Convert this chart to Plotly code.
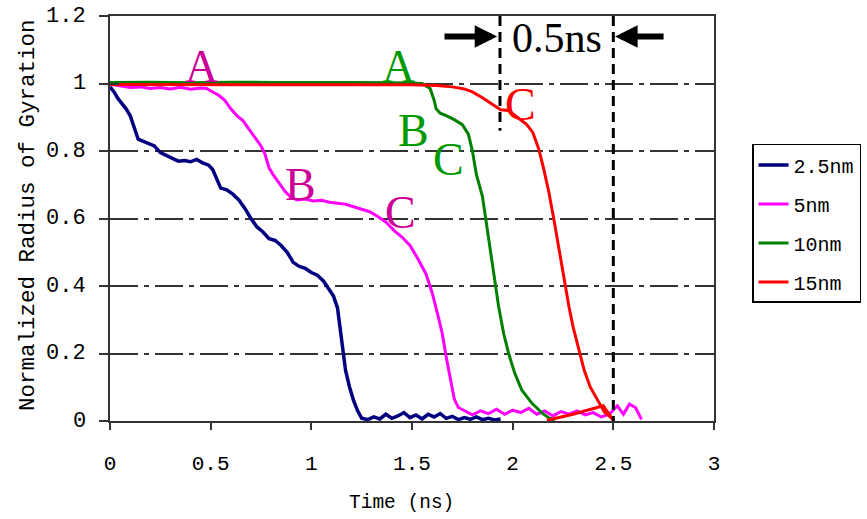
import plotly.graph_objects as go

# ---- series: normalized radius of gyration vs. time (ns) ----
t_25 = [0.00, 0.02, 0.04, 0.06, 0.08, 0.10, 0.12, 0.14, 0.16, 0.19, 0.22, 0.25, 0.28,
        0.31, 0.34, 0.37, 0.40, 0.43, 0.46, 0.49, 0.51, 0.53, 0.55, 0.58, 0.61, 0.64,
        0.67, 0.70, 0.73, 0.76, 0.79, 0.82, 0.85, 0.88, 0.91, 0.94, 0.97, 1.00, 1.03,
        1.06, 1.09, 1.11, 1.13, 1.15, 1.17, 1.19, 1.21, 1.23, 1.25, 1.28, 1.31, 1.34,
        1.37, 1.40, 1.43, 1.46, 1.49, 1.52, 1.55, 1.58, 1.61, 1.64, 1.67, 1.70, 1.73,
        1.76, 1.79, 1.82, 1.85, 1.88, 1.91, 1.94]
r_25 = [0.990, 0.975, 0.955, 0.940, 0.925, 0.905, 0.870, 0.835, 0.830, 0.822, 0.815,
        0.795, 0.785, 0.778, 0.770, 0.772, 0.768, 0.775, 0.765, 0.758, 0.745, 0.720,
        0.690, 0.685, 0.672, 0.655, 0.630, 0.600, 0.575, 0.560, 0.540, 0.535, 0.520,
        0.500, 0.470, 0.458, 0.452, 0.440, 0.432, 0.415, 0.390, 0.370, 0.335, 0.240,
        0.150, 0.100, 0.060, 0.030, 0.008, 0.004, 0.012, 0.006, 0.020, 0.008, 0.015,
        0.025, 0.010, 0.018, 0.006, 0.020, 0.012, 0.022, 0.008, 0.014, 0.004, 0.010,
        0.005, 0.012, 0.004, 0.008, 0.003, 0.006]

t_5 = [0.00, 0.05, 0.10, 0.15, 0.20, 0.25, 0.30, 0.35, 0.40, 0.45, 0.48, 0.51, 0.54,
       0.57, 0.60, 0.63, 0.66, 0.69, 0.72, 0.75, 0.77, 0.79, 0.81, 0.84, 0.87, 0.90,
       0.93, 0.97, 1.01, 1.05, 1.09, 1.13, 1.17, 1.21, 1.25, 1.29, 1.33, 1.37, 1.41,
       1.45, 1.49, 1.53, 1.57, 1.60, 1.63, 1.65, 1.67, 1.69, 1.71, 1.73, 1.76, 1.80,
       1.84, 1.88, 1.92, 1.96, 2.00, 2.04, 2.08, 2.12, 2.16, 2.20, 2.24, 2.28, 2.32,
       2.36, 2.40, 2.44, 2.48, 2.52, 2.55, 2.58, 2.61, 2.63, 2.64]
r_5 = [0.998, 0.992, 0.988, 0.990, 0.985, 0.988, 0.984, 0.989, 0.983, 0.987, 0.985,
       0.975, 0.965, 0.950, 0.925, 0.905, 0.890, 0.865, 0.840, 0.815, 0.790, 0.750,
       0.730, 0.705, 0.680, 0.662, 0.655, 0.658, 0.652, 0.654, 0.648, 0.645, 0.642,
       0.635, 0.628, 0.620, 0.606, 0.590, 0.565, 0.545, 0.520, 0.480, 0.435, 0.380,
       0.310, 0.260, 0.190, 0.125, 0.065, 0.040, 0.030, 0.018, 0.030, 0.022, 0.035,
       0.020, 0.032, 0.025, 0.038, 0.020, 0.030, 0.015, 0.028, 0.020, 0.030, 0.018,
       0.025, 0.012, 0.020, 0.045, 0.020, 0.050, 0.040, 0.015, 0.005]

t_10 = [0.00, 0.20, 0.40, 0.60, 0.80, 1.00, 1.20, 1.40, 1.55, 1.59, 1.61, 1.62, 1.64,
        1.67, 1.71, 1.75, 1.78, 1.80, 1.82, 1.85, 1.87, 1.89, 1.91, 1.93, 1.955, 1.98,
        2.01, 2.045, 2.095, 2.145, 2.18, 2.21]
r_10 = [1.003, 1.004, 1.002, 1.004, 1.003, 1.004, 1.003, 1.002, 1.000, 0.985, 0.950,
        0.925, 0.912, 0.905, 0.893, 0.878, 0.850, 0.800, 0.730, 0.665, 0.580, 0.500,
        0.420, 0.340, 0.260, 0.200, 0.142, 0.092, 0.053, 0.024, 0.009, 0.003]

t_15 = [0.00, 0.30, 0.60, 0.90, 1.20, 1.50, 1.62, 1.70, 1.76, 1.80, 1.85, 1.90, 1.94,
        1.98, 2.02, 2.07, 2.10, 2.13, 2.155, 2.18, 2.205, 2.23, 2.255, 2.28, 2.30, 2.33,
        2.355, 2.385, 2.42, 2.455, 2.49, 2.50, 2.45, 2.30, 2.17]
r_15 = [0.997, 0.997, 0.997, 0.997, 0.997, 0.996, 0.994, 0.990, 0.984, 0.975, 0.958,
        0.938, 0.922, 0.920, 0.902, 0.878, 0.855, 0.805, 0.745, 0.677, 0.596, 0.507,
        0.418, 0.338, 0.279, 0.211, 0.151, 0.101, 0.062, 0.027, 0.009, 0.002, 0.045,
        0.020, 0.002]

series_names = ["2.5nm", "5nm", "10nm", "15nm"]
series_colors = ["#000080", "#FF00FF", "#008000", "#FF0000"]

x_ticks = [0, 0.5, 1, 1.5, 2, 2.5, 3]
y_ticks = [0, 0.2, 0.4, 0.6, 0.8, 1.0, 1.2]
y_tick_text = ["0", "0.2", "0.4", "0.6", "0.8", "1", "1.2"]

# stage labels (A, B, C) placed next to each curve
stage_text = ["A", "B", "C", "A", "B", "C", "C"]
stage_x = [0.452, 0.944, 1.441, 1.431, 1.505, 1.679, 2.037]
stage_y = [1.050, 0.700, 0.617, 1.050, 0.861, 0.774, 0.938]
stage_colors = ["#CC0099", "#CC0099", "#CC0099", "#009900", "#009900", "#009900", "#FF0000"]

# 0.5 ns interval markers
interval_x = [1.937, 2.5]
interval_bottom = [0.86, 0.0]
interval_label = "0.5ns"

MONO = "Liberation Mono"
SERIF = "Liberation Serif"

fig = go.Figure()
series = [(t_25, r_25), (t_5, r_5), (t_10, r_10), (t_15, r_15)]
widths = [3.5, 3, 3, 3]
for (t, r), name, color, w in zip(series, series_names, series_colors, widths):
    fig.add_trace(go.Scatter(
        x=t, y=r, mode="lines", name=name, legendgroup=name,
        line=dict(color=color, width=w),
    ))

# carrier trace for the inner half of the crossing y ticks
fig.add_trace(go.Scatter(x=[None], y=[None], yaxis="y2", showlegend=False,
                         hoverinfo="skip"))

# vertical dashed interval lines
for xv, yb in zip(interval_x, interval_bottom):
    fig.add_shape(type="line", xref="x", yref="y", x0=xv, x1=xv, y0=1.2, y1=yb,
                  line=dict(color="black", width=3, dash="10px,6px"))

# interval arrows
fig.add_annotation(x=1.923, y=1.139, ax=1.654, ay=1.139, axref="x", ayref="y",
                   xref="x", yref="y", text="", showarrow=True, arrowhead=2,
                   arrowsize=0.75, arrowwidth=6, arrowcolor="black", standoff=0)
fig.add_annotation(x=2.509, y=1.139, ax=2.757, ay=1.139, axref="x", ayref="y",
                   xref="x", yref="y", text="", showarrow=True, arrowhead=2,
                   arrowsize=0.75, arrowwidth=6, arrowcolor="black", standoff=0)
fig.add_annotation(x=2.221, y=1.136, xref="x", yref="y", text=interval_label,
                   showarrow=False, font=dict(family=SERIF, size=42, color="black"))

for txt, xs, ys, c in zip(stage_text, stage_x, stage_y, stage_colors):
    fig.add_annotation(x=xs, y=ys, xref="x", yref="y", text=txt, showarrow=False,
                       xanchor="center", yanchor="middle",
                       font=dict(family=SERIF, size=46, color=c))

# y tick labels, right-aligned a fixed distance left of the axis
for val, txt in zip(y_ticks, y_tick_text):
    fig.add_annotation(x=-0.0364, y=val, xref="paper", yref="y", text=txt,
                       showarrow=False, xanchor="right", yanchor="middle",
                       font=dict(family=MONO, size=22, color="black"))

# axis titles
fig.add_annotation(x=0.4834, y=-0.2025, xref="paper", yref="paper", text="Time (ns)",
                   xanchor="center", yanchor="middle",
                   showarrow=False, font=dict(family=MONO, size=19.5, color="black"))
fig.add_annotation(x=-0.1358, y=0.5086, xref="paper", yref="paper",
                   text="Normalized Radius of Gyration", textangle=-90,
                   xanchor="center", yanchor="middle",
                   showarrow=False, font=dict(family=MONO, size=22.5, color="black"))

axis_line = "#333333"
fig.update_layout(
    width=867, height=519,
    margin=dict(l=110, r=153, t=16, b=98, autoexpand=False),
    paper_bgcolor="white", plot_bgcolor="white",
    font=dict(family=MONO, size=21, color="black"),
    xaxis=dict(
        range=[0, 3], tickvals=x_ticks, ticks="outside", ticklen=7, tickwidth=1.5,
        tickcolor=axis_line, showline=True, linecolor=axis_line, linewidth=2,
        mirror=True, showgrid=False, zeroline=False, ticklabelstandoff=15,
        tickfont=dict(family=MONO, size=21),
    ),
    yaxis=dict(
        range=[0, 1.2], tickvals=y_ticks, ticks="outside", ticklen=9, tickwidth=1.5,
        tickcolor=axis_line, showline=True, linecolor=axis_line, linewidth=2,
        mirror=True, showgrid=True, gridcolor="#333333", gridwidth=1.5,
        griddash="28px,6px,5px,6px", zeroline=False, showticklabels=False,
    ),
    yaxis2=dict(
        range=[0, 1.2], tickvals=y_ticks, overlaying="y", side="left",
        ticks="inside", ticklen=9, tickwidth=1.5, tickcolor=axis_line,
        showticklabels=False, showgrid=False, showline=False, zeroline=False,
    ),
    legend=dict(
        x=1.063, y=0.684, xanchor="left", yanchor="top",
        bordercolor="black", borderwidth=1.5, bgcolor="white",
        font=dict(family=MONO, size=20, color="black"),
        tracegroupgap=10, itemwidth=30,
    ),
    showlegend=True,
)

fig.write_html("out.html")
